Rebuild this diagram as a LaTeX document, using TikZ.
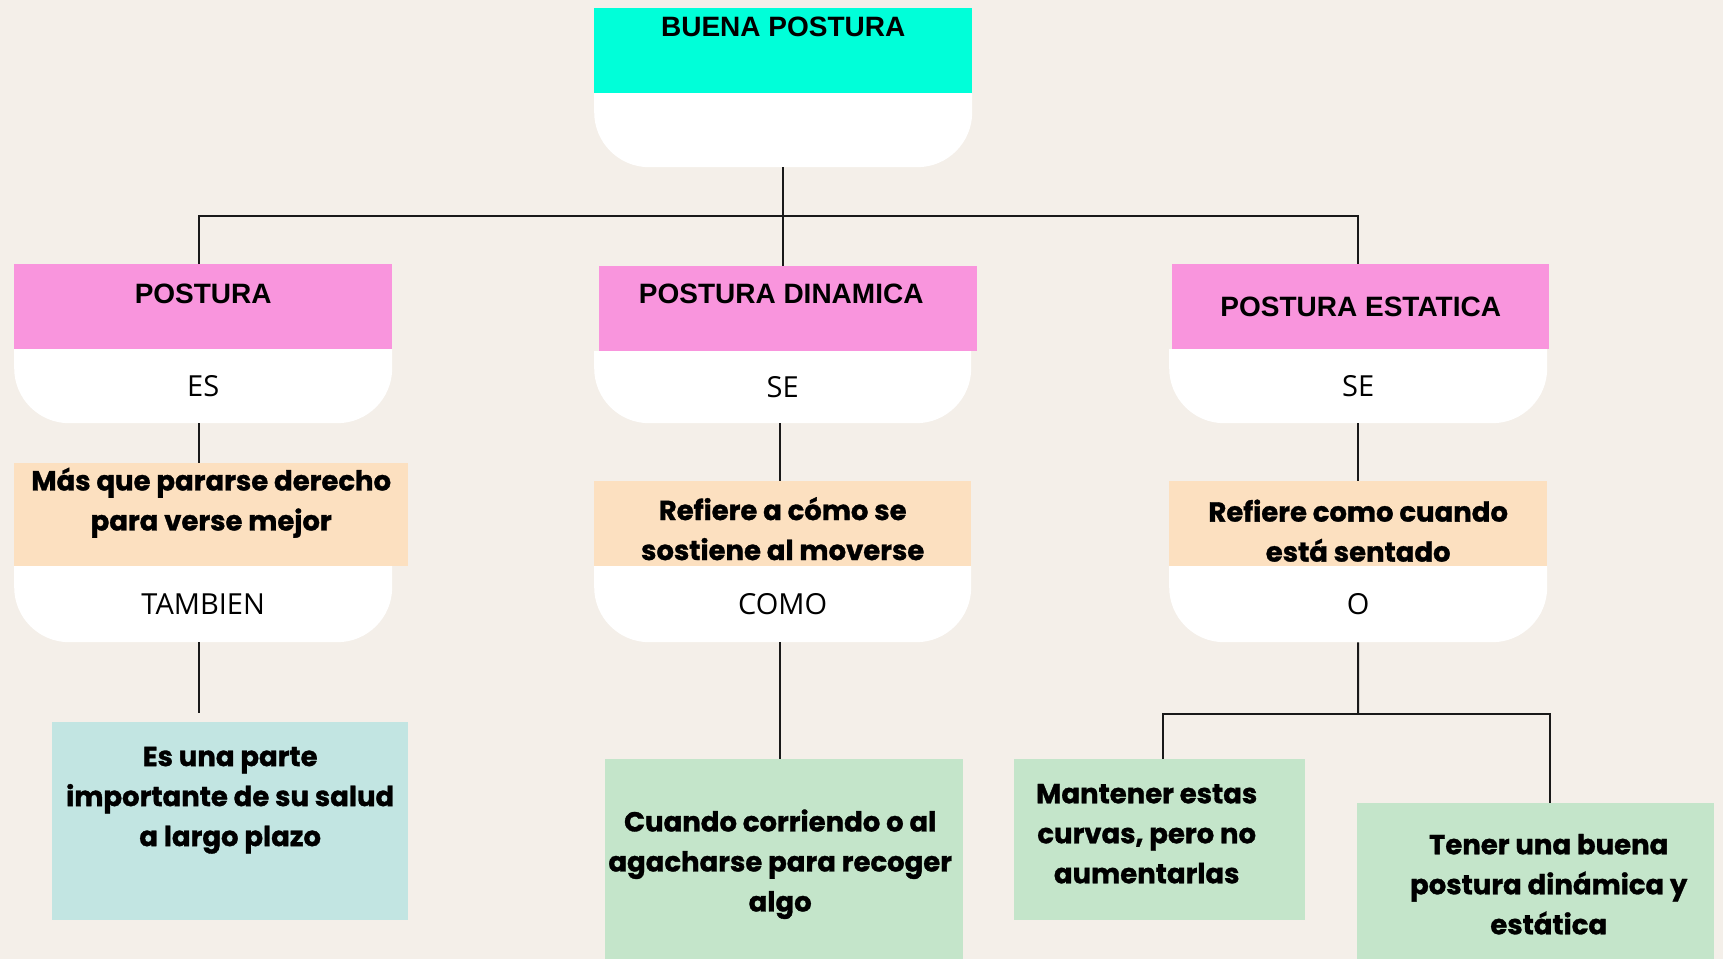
\documentclass[tikz,border=0pt]{standalone}
\usepackage{fontspec}
\setmainfont{Open Sans}
\newfontfamily\headfont{Liberation Sans}
\newfontfamily\boxfont[BoldFeatures={FakeBold=1.2}]{Poppins}
\usetikzlibrary{positioning}

\definecolor{bgcream}{HTML}{F4EFE9}
\definecolor{topcyan}{HTML}{00FFD9}
\definecolor{headpink}{HTML}{F995DD}
\definecolor{peach}{HTML}{FCE0C0}
\definecolor{tealbox}{HTML}{C2E5E2}
\definecolor{greenbox}{HTML}{C4E5CA}

\tikzset{
  box/.style={rectangle, inner sep=0pt, anchor=north west},
  headbox/.style={box, fill=headpink, minimum width=378pt, minimum height=85pt},
  capbox/.style={box, fill=bgcream, minimum width=378pt, minimum height=74pt,
    font=\fontsize{29}{34}\selectfont,
    path picture={\fill[white, rounded corners=55pt]
      (path picture bounding box.north west) -- (path picture bounding box.south west)
      -- (path picture bounding box.south east) -- (path picture bounding box.north east);}},
  headtext/.style={inner sep=0pt, font=\headfont\bfseries\fontsize{28}{34}\selectfont},
  bodytext/.style={inner sep=0pt, align=center, font=\boxfont\bfseries\fontsize{27.5}{40}\selectfont},
  link/.style={line width=2pt, draw=black!90}
}

\begin{document}
\begin{tikzpicture}[x=1pt, y=-1pt]

    % Page
    \fill[bgcream] (0,0) rectangle (1723,959);
    \useasboundingbox (0,0) rectangle (1723,959);

    % Top card
    \node[box, fill=topcyan, minimum width=378pt, minimum height=85pt] (top) at (594,8) {};
    \node[headtext] at ([yshift=24pt]top.center) {BUENA POSTURA};
    \node[capbox] (topcap) at (594,93) {};

    % Left column
    \node[headbox] (postura) at (14,264) {};
    \node[headtext] at ([yshift=13pt]postura.center) {POSTURA};
    \node[capbox] (es) at (14,349) {ES};
    \node[box, fill=peach, minimum width=394pt, minimum height=103pt] (mas) at (14,463) {};
    \node[bodytext] at ([yshift=12pt]mas.center) {Más que pararse derecho\\para verse mejor};
    \node[capbox, minimum height=76pt] (tambien) at (14,566) {TAMBIEN};
    \node[box, fill=tealbox, minimum width=356pt, minimum height=198pt] (salud) at (52,722) {};
    \node[bodytext] at ([yshift=21pt]salud.center) {Es una parte\\importante de su salud\\a largo plazo};

    % Middle column
    \node[headbox] (dinamica) at (599,266) {};
    \node[headtext] at ([xshift=-7pt, yshift=15pt]dinamica.center) {POSTURA DINAMICA};
    \node[capbox, minimum width=377pt, minimum height=72pt] (se1) at (594,351) {SE};
    \node[box, fill=peach, minimum width=377pt, minimum height=85pt] (moverse) at (594,481) {};
    \node[bodytext] at ([yshift=-5pt]moverse.center) {Refiere a cómo se\\sostiene al moverse};
    \node[capbox, minimum width=377pt, minimum height=76pt] (como) at (594,566) {COMO};
    \node[box, fill=greenbox, minimum width=358pt, minimum height=200pt] (recoger) at (605,759) {};
    \node[bodytext] at ([xshift=-4pt, yshift=-5pt]recoger.center) {Cuando corriendo o al\\agacharse para recoger\\algo};

    % Right column
    \node[headbox, minimum width=377pt] (estatica) at (1172,264) {};
    \node[headtext] at (estatica.center) {POSTURA ESTATICA};
    \node[capbox] (se2) at (1169,349) {SE};
    \node[box, fill=peach, minimum width=378pt, minimum height=85pt] (sentado) at (1169,481) {};
    \node[bodytext] at ([yshift=-7pt]sentado.center) {Refiere como cuando\\está sentado};
    \node[capbox, minimum height=76pt] (o) at (1169,566) {O};
    \node[box, fill=greenbox, minimum width=291pt, minimum height=161pt] (curvas) at (1014,759) {};
    \node[bodytext] at ([xshift=-13pt, yshift=6pt]curvas.center) {Mantener estas\\curvas, pero no\\aumentarlas};
    \node[box, fill=greenbox, minimum width=357pt, minimum height=156pt] (ambas) at (1357,803) {};
    \node[bodytext] at ([xshift=13pt, yshift=-3pt]ambas.center) {Tener una buena\\postura dinámica y\\estática};

    % Connectors
    \coordinate (hub) at (781,216);
    \draw[link] (topcap.south) -- (topcap.south |- dinamica.north);
    \draw[link] ([xshift=-4pt]postura.north) |- (hub) -| ([xshift=-3pt]estatica.north);
    \draw[link] ([xshift=-4pt]es.south) -- ([xshift=-4pt]es.south |- mas.north);
    \draw[link, shorten >=9pt] ([xshift=-4pt]tambien.south) -- ([xshift=-4pt]tambien.south |- salud.north);
    \draw[link] ([xshift=-3pt]se1.south) -- ([xshift=-3pt]se1.south |- moverse.north);
    \draw[link] ([xshift=-3pt]como.south) -- ([xshift=-3pt]como.south |- recoger.north);
    \draw[link] (se2.south) -- (se2.south |- sentado.north);
    \coordinate (split) at (1358,714);
    \draw[link] (o.south) -- (split);
    \draw[link] ([xshift=3pt]curvas.north) |- (split) -| ([xshift=14pt]ambas.north);

\end{tikzpicture}
\end{document}
